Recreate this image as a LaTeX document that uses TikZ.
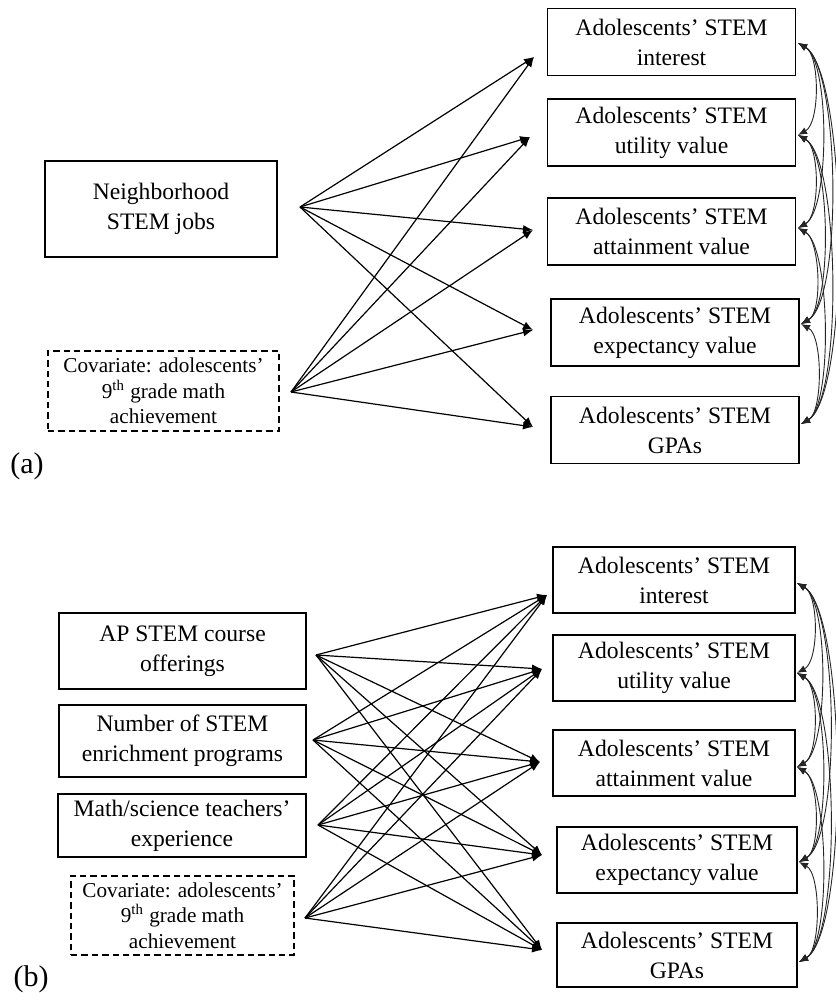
\documentclass[tikz,border=0pt]{standalone}
\usepackage{fontspec}
\setmainfont{Liberation Serif}
\usetikzlibrary{arrows.meta}

\begin{document}
\begin{tikzpicture}[x=0.5pt, y=-0.5pt]
	\tikzstyle{Box}   = [rectangle, draw, line width=0.75pt, inner sep=0pt, align=center, font=\fontsize{11.8}{15}\selectfont]
	\tikzstyle{Outc}  = [Box, minimum width=124pt, minimum height=33.5pt]
	\tikzstyle{Covar} = [Box, dash pattern=on 3.2pt off 2pt, font=\fontsize{10.6}{12.8}\selectfont]
	\tikzstyle{Path}  = [-{Latex[length=5pt,width=4pt]}, line width=0.6pt]
	\tikzstyle{Cov}   = [{Latex[length=4.5pt,width=3.6pt]}-{Latex[length=4.5pt,width=3.6pt]}, line width=0.45pt, black!85]
	\tikzstyle{Panel} = [font=\fontsize{15}{18}\selectfont]

	\useasboundingbox (0,0) rectangle (835,1005);

	% (a) neighborhood model
	\node (nb) at (161, 209) [Box, minimum width=116pt, minimum height=48pt] {Neighborhood\\STEM jobs};
	\node (ca) at (163.5, 391) [Covar, minimum width=115.5pt, minimum height=40pt] {Covariate: adolescents’\\9\textsuperscript{th} grade math\\achievement};
	\node (ya1) at (671.5, 42) [Outc] {Adolescents’ STEM\\interest};
	\node (ya2) at (671.5, 132.5) [Outc] {Adolescents’ STEM\\utility value};
	\node (ya3) at (671.5, 231.5) [Outc] {Adolescents’ STEM\\attainment value};
	\node (ya4) at (675, 332.5) [Outc] {Adolescents’ STEM\\expectancy value};
	\node (ya5) at (675, 430) [Outc] {Adolescents’ STEM\\GPAs};
	\node (la) at (27, 466) [Panel] {(a)};

	\coordinate (nbo) at (300, 207);
	\coordinate (cao) at (291, 392);
	\coordinate (ia1) at (534, 57);
	\coordinate (ia2) at (530, 137);
	\coordinate (ia3) at (533, 230);
	\coordinate (ia4) at (533, 330);
	\coordinate (ia5) at (533, 427);
	\coordinate (ra1) at (798, 43);
	\coordinate (ra2) at (798, 135);
	\coordinate (ra3) at (798, 228);
	\coordinate (ra4) at (801, 324);
	\coordinate (ra5) at (801, 424);

	\draw (nbo) to (ia1) [Path];
	\draw (nbo) to (ia2) [Path];
	\draw (nbo) to (ia3) [Path];
	\draw (nbo) to (ia4) [Path];
	\draw (nbo) to (ia5) [Path];
	\draw (cao) to (ia1) [Path];
	\draw (cao) to (ia2) [Path];
	\draw (cao) to (ia3) [Path];
	\draw (cao) to (ia4) [Path];
	\draw (cao) to (ia5) [Path];

	\draw (ra1) .. controls +(22,12) and +(22,-12) .. (ra2) [Cov];
	\draw (ra1) .. controls +(32,18) and +(32,-18) .. (ra3) [Cov];
	\draw (ra1) .. controls +(42,24) and +(42,-24) .. (ra4) [Cov];
	\draw (ra1) .. controls +(50,30) and +(50,-30) .. (ra5) [Cov];
	\draw (ra2) .. controls +(22,12) and +(22,-12) .. (ra3) [Cov];
	\draw (ra2) .. controls +(32,18) and +(32,-18) .. (ra4) [Cov];
	\draw (ra2) .. controls +(42,24) and +(42,-24) .. (ra5) [Cov];
	\draw (ra3) .. controls +(22,12) and +(22,-12) .. (ra4) [Cov];
	\draw (ra3) .. controls +(32,18) and +(32,-18) .. (ra5) [Cov];
	\draw (ra4) .. controls +(22,12) and +(22,-12) .. (ra5) [Cov];

	% (b) school model
	\node (ap) at (182.5, 651) [Box, minimum width=123.5pt, minimum height=38pt] {AP STEM course\\offerings};
	\node (np) at (182.5, 741) [Box, minimum width=123.5pt, minimum height=36pt] {Number of STEM\\enrichment programs};
	\node (mt) at (182, 825.5) [Box, minimum width=124pt, minimum height=31.5pt] {Math/science teachers’\\experience};
	\node (cb) at (182.5, 915.5) [Covar, minimum width=111.5pt, minimum height=39.5pt] {Covariate: adolescents’\\9\textsuperscript{th} grade math\\achievement};
	\node (yb1) at (674, 580) [Outc, minimum width=121pt, minimum height=33pt] {Adolescents’ STEM\\interest};
	\node (yb2) at (674, 668) [Outc, minimum width=121pt, minimum height=33pt] {Adolescents’ STEM\\utility value};
	\node (yb3) at (674, 763) [Outc, minimum width=121pt, minimum height=33pt] {Adolescents’ STEM\\attainment value};
	\node (yb4) at (677, 860) [Outc, minimum width=120pt, minimum height=33pt] {Adolescents’ STEM\\expectancy value};
	\node (yb5) at (677, 955) [Outc, minimum width=120pt, minimum height=32pt] {Adolescents’ STEM\\GPAs};
	\node (lb) at (31, 979) [Panel] {(b)};

	\coordinate (apo) at (316, 655);
	\coordinate (npo) at (313, 740);
	\coordinate (mto) at (318, 825);
	\coordinate (cbo) at (305, 918);
	\coordinate (ib1) at (547, 595);
	\coordinate (ib2) at (542, 669);
	\coordinate (ib3) at (540, 762);
	\coordinate (ib4) at (542, 855);
	\coordinate (ib5) at (542, 950);
	\coordinate (rb1) at (797, 583);
	\coordinate (rb2) at (797, 673);
	\coordinate (rb3) at (797, 767);
	\coordinate (rb4) at (799, 862);
	\coordinate (rb5) at (799, 962);

	\draw (apo) to (ib1) [Path];
	\draw (apo) to (ib2) [Path];
	\draw (apo) to (ib3) [Path];
	\draw (apo) to (ib4) [Path];
	\draw (apo) to (ib5) [Path];
	\draw (npo) to (ib1) [Path];
	\draw (npo) to (ib2) [Path];
	\draw (npo) to (ib3) [Path];
	\draw (npo) to (ib4) [Path];
	\draw (npo) to (ib5) [Path];
	\draw (mto) to (ib1) [Path];
	\draw (mto) to (ib2) [Path];
	\draw (mto) to (ib3) [Path];
	\draw (mto) to (ib4) [Path];
	\draw (mto) to (ib5) [Path];
	\draw (cbo) to (ib1) [Path];
	\draw (cbo) to (ib2) [Path];
	\draw (cbo) to (ib3) [Path];
	\draw (cbo) to (ib4) [Path];
	\draw (cbo) to (ib5) [Path];

	\draw (rb1) .. controls +(22,12) and +(22,-12) .. (rb2) [Cov];
	\draw (rb1) .. controls +(32,18) and +(32,-18) .. (rb3) [Cov];
	\draw (rb1) .. controls +(42,24) and +(42,-24) .. (rb4) [Cov];
	\draw (rb1) .. controls +(50,30) and +(50,-30) .. (rb5) [Cov];
	\draw (rb2) .. controls +(22,12) and +(22,-12) .. (rb3) [Cov];
	\draw (rb2) .. controls +(32,18) and +(32,-18) .. (rb4) [Cov];
	\draw (rb2) .. controls +(42,24) and +(42,-24) .. (rb5) [Cov];
	\draw (rb3) .. controls +(22,12) and +(22,-12) .. (rb4) [Cov];
	\draw (rb3) .. controls +(32,18) and +(32,-18) .. (rb5) [Cov];
	\draw (rb4) .. controls +(22,12) and +(22,-12) .. (rb5) [Cov];
\end{tikzpicture}
\end{document}
